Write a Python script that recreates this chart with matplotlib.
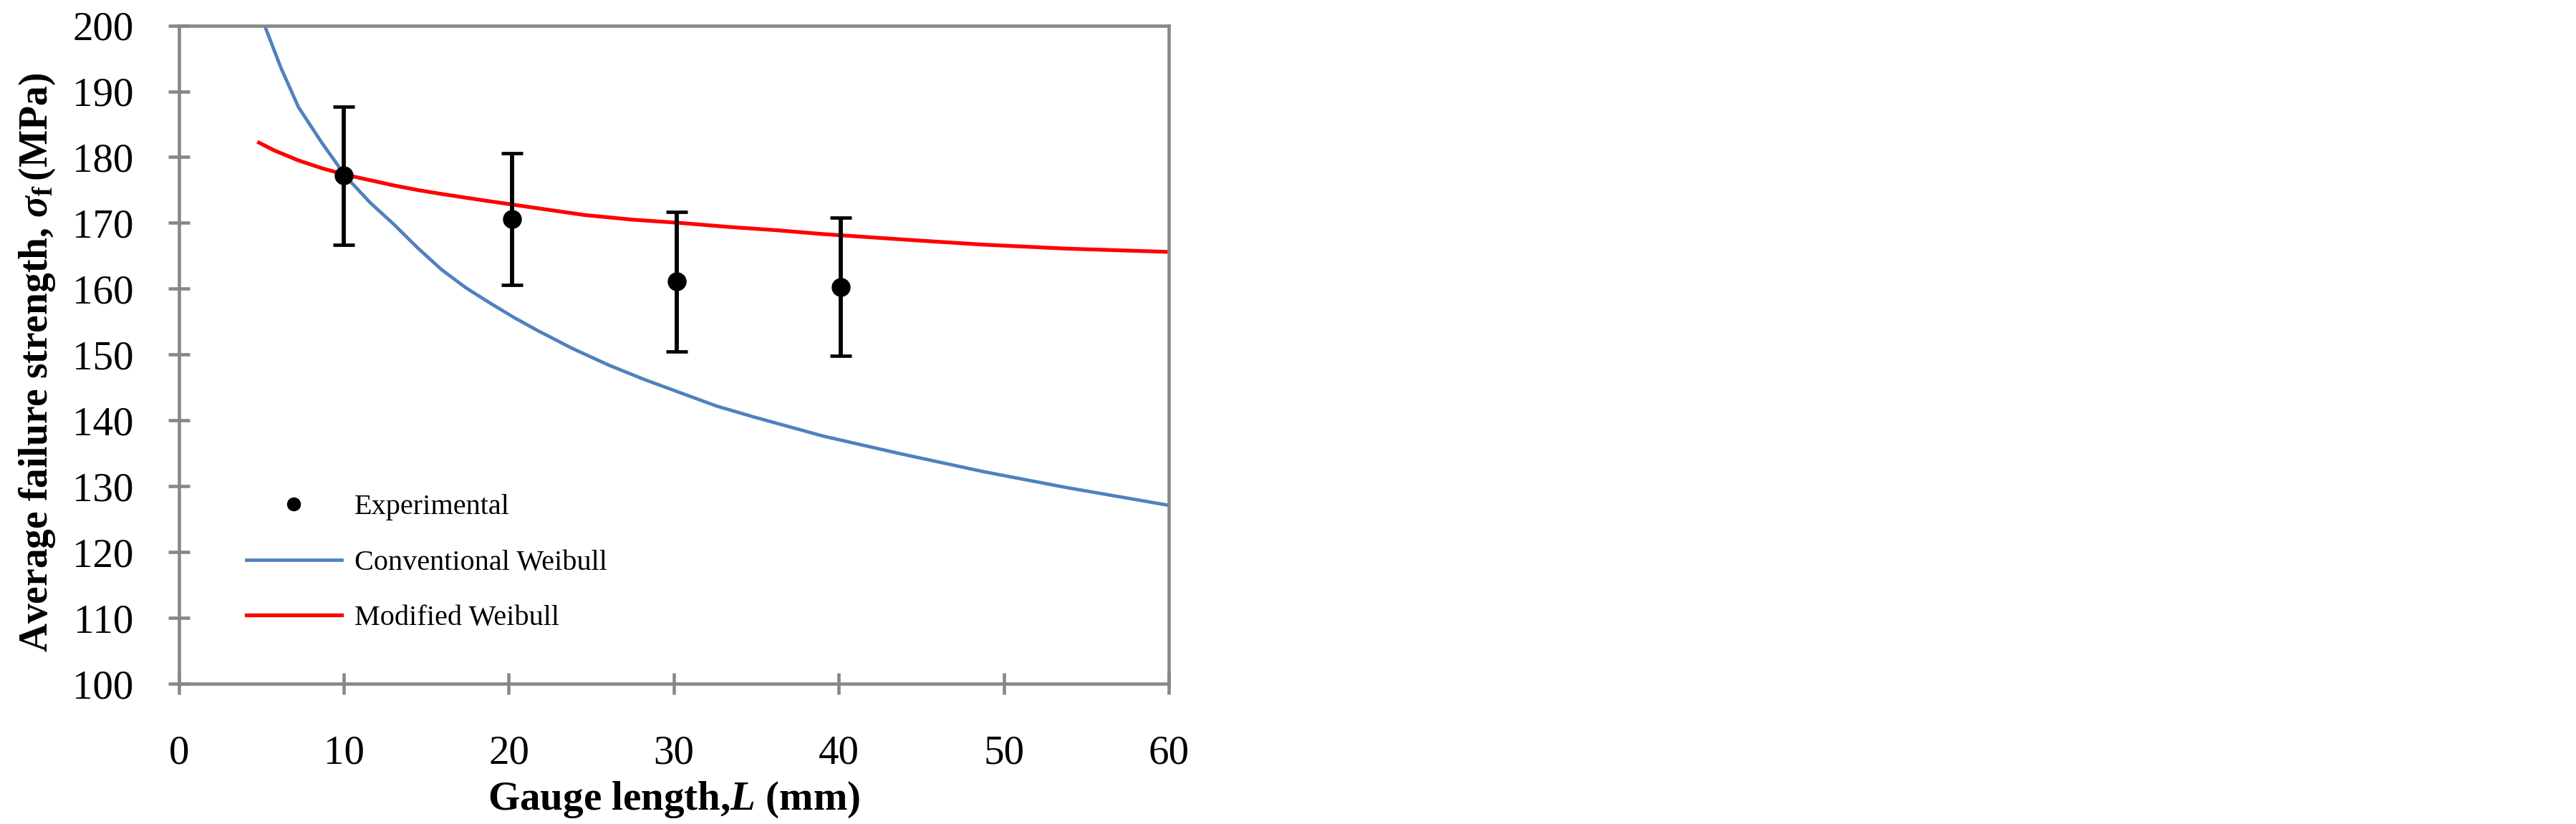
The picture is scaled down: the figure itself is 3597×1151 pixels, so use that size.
import matplotlib
matplotlib.use("Agg")
import matplotlib.pyplot as plt
from matplotlib.lines import Line2D

plt.rcParams['font.family'] = ['Liberation Serif', 'DejaVu Serif']
plt.rcParams['mathtext.fontset'] = 'custom'
plt.rcParams['mathtext.rm'] = 'Liberation Serif'
plt.rcParams['mathtext.it'] = 'Liberation Serif:italic'
plt.rcParams['mathtext.bf'] = 'Liberation Serif:bold'
plt.rcParams['mathtext.bfit'] = 'Liberation Serif:italic:bold'

# Experimental data
exp_L = [10.0, 20.2, 30.2, 40.1]
exp_sigma = [177.2, 170.6, 161.1, 160.3]
exp_err = [10.5, 10.0, 10.6, 10.5]

# Conventional Weibull curve
conv_L = [5.2, 6.2, 7.25, 8.69, 10.14, 11.59, 13.03, 14.48, 15.93, 17.37, 18.82,
          20.27, 21.71, 23.88, 26.06, 28.23, 30.40, 32.57, 34.74, 36.91, 39.08,
          43.8, 48.8, 53.8, 60.0]
conv_sigma = [200.0, 193.5, 187.6, 182.1, 177.0, 173.1, 169.8, 166.2, 162.9, 160.2,
              157.9, 155.7, 153.7, 150.9, 148.4, 146.2, 144.2, 142.2, 140.6, 139.1,
              137.6, 134.9, 132.2, 129.8, 127.1]

# Modified Weibull curve
mod_L = [4.86, 5.8, 7.25, 8.69, 10.14, 11.59, 13.03, 14.48, 15.93, 17.37, 18.82,
         21.71, 24.6, 27.5, 30.4, 33.3, 36.2, 39.1, 44.4, 48.8, 53.8, 60.0]
mod_sigma = [182.2, 181.0, 179.5, 178.3, 177.3, 176.5, 175.7, 175.0, 174.4, 173.85,
             173.3, 172.25, 171.2, 170.5, 170.0, 169.4, 168.9, 168.3, 167.4, 166.7,
             166.1, 165.6]

x_ticks = [0, 10, 20, 30, 40, 50, 60]
y_ticks = [100, 110, 120, 130, 140, 150, 160, 170, 180, 190, 200]

W, H = 3598, 1151
fig = plt.figure(figsize=(W / 100, H / 100), dpi=100)
ax = fig.add_axes([249.7 / W, 1 - 955 / H, (1632 - 249.7) / W, (955 - 35.6) / H])

gray = '#878787'
ax.errorbar(exp_L, exp_sigma, yerr=exp_err, fmt='o', color='black', markersize=18,
            elinewidth=4.2, capsize=11, capthick=3.4, zorder=3)
ax.plot(conv_L, conv_sigma, color='#4F81BD', lw=3.4, zorder=2)
ax.plot(mod_L, mod_sigma, color='#FF0000', lw=3.8, zorder=2)

ax.set_xlim(0, 60)
ax.set_ylim(100, 200)
ax.set_xticks(x_ticks)
ax.set_yticks(y_ticks)

for s in ax.spines.values():
    s.set_color(gray)
    s.set_linewidth(3.3)

ax.tick_params(axis='both', direction='inout', length=21, width=3.3, color=gray,
               labelsize=41, labelcolor='black')
ax.tick_params(axis='y', pad=35)
ax.tick_params(axis='x', pad=41)

ax.set_xlabel(r'Gauge length,$\boldsymbol{L}$ (mm)', fontsize=41, fontweight='bold', labelpad=8)
ax.set_ylabel(r'Average failure strength, $\boldsymbol{\sigma}_{\mathbf{f}}\,$(MPa)',
              fontsize=40, fontweight='bold')
ax.yaxis.set_label_coords(-0.123, 0.488)

handles = [
    Line2D([], [], marker='o', color='black', linestyle='none', markersize=13),
    Line2D([], [], color='#4F81BD', lw=3.4),
    Line2D([], [], color='#FF0000', lw=3.8),
]
labels = ['Experimental', 'Conventional Weibull', 'Modified Weibull']
ax.legend(handles, labels, loc='upper left', bbox_to_anchor=(0.068, 0.288),
          frameon=False, fontsize=29, handlelength=3.3, handletextpad=0.45,
          labelspacing=1.0, borderaxespad=0, borderpad=0)

fig.savefig('out.png', dpi=100)
